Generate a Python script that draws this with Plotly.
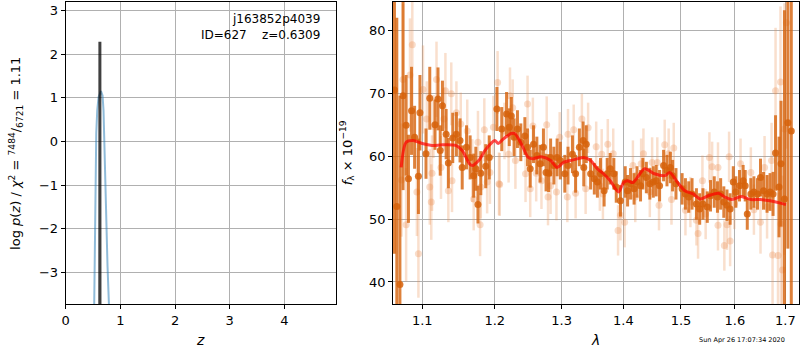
import plotly.graph_objects as go
import numpy as np

# ---------------- Left panel: redshift PDF ----------------
z_chi = [0.50, 0.523, 0.541, 0.547, 0.559, 0.577, 0.601, 0.645, 0.674, 0.692, 0.710, 0.729, 0.747, 0.765, 0.790, 0.81]
logp_chi = [-6.0, -3.72, -2.09, -0.58, 0.18, 0.71, 1.01, 1.15, 1.05, 0.71, -0.20, -1.34, -2.25, -2.85, -3.70, -4.5]

z_pdf = [0.622, 0.6245, 0.6255, 0.628]
logp_pdf = [-8.0, 2.28, 2.28, -8.0]

# ---------------- Right panel: spectrum ----------------
lam_d = [1.064, 1.067, 1.071, 1.075, 1.079, 1.082, 1.086, 1.090, 1.095, 1.097,
         1.105, 1.110, 1.117, 1.121, 1.124, 1.127, 1.132, 1.135, 1.141, 1.146,
         1.151, 1.154, 1.160, 1.165, 1.170, 1.173, 1.176, 1.180, 1.187, 1.192,
         1.203, 1.210, 1.217, 1.221, 1.224, 1.228, 1.233, 1.238, 1.244, 1.248,
         1.252, 1.257, 1.262, 1.267, 1.272, 1.276, 1.280, 1.283, 1.288, 1.293,
         1.298, 1.305, 1.310, 1.317, 1.322, 1.328, 1.334, 1.335, 1.339, 1.346,
         1.352, 1.357, 1.362, 1.368, 1.373, 1.378, 1.384, 1.388, 1.395, 1.403,
         1.407, 1.412, 1.418, 1.423, 1.429, 1.433, 1.439, 1.445, 1.451, 1.456,
         1.462, 1.469, 1.475, 1.481, 1.485, 1.491, 1.502, 1.508, 1.514, 1.520,
         1.528, 1.534, 1.540, 1.548, 1.554, 1.561, 1.567, 1.573, 1.579, 1.585,
         1.591, 1.597, 1.602, 1.609, 1.616, 1.620, 1.624, 1.631, 1.637, 1.644,
         1.650, 1.656, 1.663, 1.669, 1.675, 1.680, 1.687, 1.691, 1.698, 1.705,
         1.712]
flux_d = [70.5, 52.0, 39.6, 69.6, 64.9, 56.4, 67.2, 63.0, 56.8, 66.9,
          60.4, 69.2, 65.0, 69.1, 60.9, 68.0, 63.5, 58.9, 62.9, 63.5,
          62.5, 58.2, 61.4, 59.8, 56.9, 58.0, 52.3, 57.3, 58.4, 59.8,
          67.5, 64.3, 66.7, 64.6, 66.4, 63.0, 64.3, 62.2, 63.2, 61.4,
          58.0, 61.9, 60.1, 58.8, 61.4, 57.4, 57.3, 59.8, 58.5, 59.8,
          59.3, 57.2, 58.5, 60.3, 57.2, 61.4, 62.5, 58.2, 61.9, 57.2,
          56.4, 55.9, 57.2, 54.5, 57.2, 58.0, 57.2, 55.1, 52.9, 55.9,
          54.5, 55.6, 54.8, 55.9, 55.3, 57.2, 56.6, 55.6, 55.9, 56.1,
          55.3, 58.5, 57.7, 58.2, 56.9, 55.6, 54.8, 54.0, 53.5, 54.0,
          52.4, 51.6, 52.4, 51.9, 53.7, 54.3, 53.5, 54.0, 52.7, 52.2,
          51.6, 55.9, 54.3, 55.3, 56.1, 55.3, 50.8, 54.0, 54.3, 54.0,
          56.6, 54.5, 54.0, 54.3, 54.0, 60.5, 55.1, 58.8, 53.2, 65.3,
          64.0]
err_d = [26, 30, 30, 15, 8, 7, 7, 5, 6, 6,
         4, 5, 4, 5, 4, 4, 4, 4, 4, 3.5,
         3.5, 3.5, 3.5, 3.5, 3.5, 3.5, 3, 3.5, 3.5, 3.5,
         3.5, 3.5, 3.5, 3, 3, 3, 3, 3, 3, 3,
         3, 3, 3, 3, 3, 3, 3, 3, 3, 3,
         3, 3, 3, 3, 3, 3, 3, 3, 3, 2.5,
         2.5, 2.5, 2.5, 2.5, 2.5, 2.5, 2.5, 2.5, 2.5, 2.5,
         2.5, 2.5, 2.5, 2.5, 2.5, 2.5, 2.5, 2.5, 2.5, 2.5,
         2.5, 2.5, 2.5, 2.5, 2.5, 2.5, 2.5, 2.5, 2.5, 2.5,
         2.5, 2.5, 2.5, 2.5, 2.5, 2.5, 2.5, 2.5, 2.5, 2.5,
         2.5, 2.5, 2.5, 2.5, 2.5, 2.5, 2.5, 2.5, 2.5, 2.5,
         3, 3, 3, 3, 3.5, 6, 8, 10, 30, 20,
         30]

lam_l = [1.075, 1.087, 1.084, 1.073, 1.079, 1.095, 1.093, 1.101, 1.106, 1.110,
         1.112, 1.113, 1.119, 1.115, 1.131, 1.129, 1.125, 1.135, 1.139, 1.140,
         1.146, 1.152, 1.161, 1.168, 1.170, 1.176, 1.179, 1.180, 1.185, 1.189,
         1.193, 1.198, 1.204, 1.206, 1.207, 1.214, 1.222, 1.220, 1.230, 1.226,
         1.245, 1.248, 1.252, 1.256, 1.261, 1.269, 1.277, 1.279, 1.283, 1.292,
         1.297, 1.309, 1.310, 1.319, 1.322, 1.332, 1.338, 1.342, 1.355, 1.361,
         1.364, 1.374, 1.383, 1.366, 1.391, 1.395, 1.402, 1.416, 1.420, 1.430,
         1.434, 1.445, 1.449, 1.458, 1.461, 1.471, 1.478, 1.487, 1.483, 1.508,
         1.517, 1.528, 1.531, 1.539, 1.545, 1.552, 1.557, 1.568, 1.568, 1.580,
         1.585, 1.589, 1.591, 1.599, 1.611, 1.631, 1.637, 1.650, 1.658, 1.663,
         1.672, 1.674, 1.680, 1.685, 1.690, 1.691, 1.694, 1.702, 1.698]
flux_l = [72.2, 77.7, 72.9, 56.2, 49.1, 44.5, 54.3, 70.6, 65.9, 55.1,
          52.7, 57.3, 72.2, 64.7, 70.4, 65.9, 58.2, 54.5, 69.9, 56.1,
          66.9, 65.1, 64.0, 57.7, 53.2, 62.2, 49.1, 55.1, 64.2, 55.9,
          57.4, 64.6, 71.7, 55.6, 55.5, 64.0, 69.6, 60.3, 59.3, 67.7,
          57.2, 68.3, 54.8, 64.8, 57.3, 56.1, 65.0, 53.5, 55.3, 54.3,
          63.0, 53.5, 63.5, 64.2, 54.1, 65.9, 54.8, 64.5, 61.5, 55.3,
          60.3, 61.9, 60.4, 54.0, 48.2, 50.6, 49.5, 58.5, 53.5, 58.8,
          60.4, 54.3, 59.0, 59.0, 52.2, 61.8, 60.4, 61.3, 53.1, 51.4,
          52.7, 49.8, 47.7, 56.1, 50.8, 59.8, 58.3, 58.2, 49.0, 45.8,
          49.1, 59.9, 46.5, 52.4, 58.8, 57.4, 51.5, 49.5, 58.2, 51.9,
          59.3, 44.3, 70.4, 44.2, 71.8, 49.2, 41.9, 81.2, 64.3]
err_l = [12, 10, 9, 9, 9, 7, 7, 7, 6, 6,
         6, 6, 6, 5, 6, 5, 5, 5, 5, 5,
         5, 5, 5, 5, 5, 5, 5, 5, 5, 5,
         5, 5, 5, 5, 5, 4.5, 4.5, 4.5, 4.5, 4.5,
         4.5, 4.5, 4.5, 4.5, 4.5, 4.5, 4.5, 4.5, 4.5, 4.5,
         4, 4, 4, 4, 4, 4, 4, 4, 4, 4,
         4, 4, 4, 4, 4, 4, 4, 4, 4, 4,
         4, 4, 4, 4, 4, 4, 4, 4, 4, 4,
         4, 4, 4, 4, 4, 4, 4, 4, 4, 4,
         4, 4, 4, 4, 4, 4, 4, 5, 5, 5,
         6, 8, 10, 10, 12, 15, 15, 20, 20]

lam_m = [1.0726, 1.079, 1.088, 1.100, 1.113, 1.127, 1.145, 1.154, 1.164, 1.168,
         1.177, 1.186, 1.196, 1.200, 1.205, 1.212, 1.224, 1.229, 1.239, 1.249,
         1.256, 1.269, 1.283, 1.293, 1.303, 1.318, 1.335, 1.346, 1.357, 1.367,
         1.378, 1.392, 1.400, 1.407, 1.416, 1.436, 1.453, 1.471, 1.480, 1.494,
         1.507, 1.522, 1.535, 1.550, 1.569, 1.581, 1.594, 1.612, 1.631, 1.650,
         1.669, 1.701]
flux_m = [58.2, 62.2, 62.5, 62.0, 61.7, 61.8, 61.7, 60.9, 58.8, 58.5,
          59.3, 60.9, 62.2, 62.5, 62.0, 62.7, 63.6, 63.6, 61.9, 59.8,
          59.6, 59.9, 59.3, 58.2, 59.0, 59.4, 59.8, 59.3, 58.0, 57.2,
          56.1, 54.3, 55.8, 56.1, 55.8, 58.0, 57.2, 56.9, 57.4, 55.8,
          54.5, 54.0, 53.2, 53.7, 54.1, 53.5, 53.1, 53.6, 53.1, 53.1,
          52.9, 52.3]

xticks_l = [0, 1, 2, 3, 4]
yticks_l = [-3, -2, -1, 0, 1, 2, 3]
xticks_r = [1.1, 1.2, 1.3, 1.4, 1.5, 1.6, 1.7]
yticks_r = [40, 50, 60, 70, 80]

FONT = "DejaVu Sans"
W, H = 800, 350

fig = go.Figure()

fig.add_trace(go.Scatter(x=z_chi, y=logp_chi, mode="lines",
                         line=dict(color="rgba(31,119,180,0.5)", width=2),
                         xaxis="x", yaxis="y", showlegend=False, hoverinfo="skip"))
fig.add_trace(go.Scatter(x=z_pdf, y=logp_pdf, mode="lines",
                         line=dict(color="rgba(0,0,0,0.75)", width=3),
                         xaxis="x", yaxis="y", showlegend=False, hoverinfo="skip"))

fig.add_trace(go.Scatter(x=lam_l, y=flux_l, mode="markers",
                         marker=dict(color="rgba(235,140,75,0.3)", size=7, line=dict(width=0)),
                         error_y=dict(type="data", array=err_l, color="rgba(235,140,75,0.28)",
                                      thickness=2.5, width=0),
                         xaxis="x2", yaxis="y2", showlegend=False, hoverinfo="skip"))
fig.add_trace(go.Scatter(x=lam_d, y=flux_d, mode="markers",
                         marker=dict(color="rgba(214,98,10,0.85)", size=7, line=dict(width=0)),
                         error_y=dict(type="data", array=err_d, color="rgba(214,98,10,0.8)",
                                      thickness=3, width=0),
                         xaxis="x2", yaxis="y2", showlegend=False, hoverinfo="skip"))
fig.add_trace(go.Scatter(x=lam_m, y=flux_m, mode="lines", line_shape="spline",
                         line=dict(color="rgba(255,0,0,0.7)", width=3, smoothing=0.8),
                         xaxis="x2", yaxis="y2", showlegend=False, hoverinfo="skip"))

axis_common = dict(showline=True, linecolor="black", linewidth=1, mirror=True,
                   ticks="outside", ticklen=4, tickcolor="black",
                   showgrid=True, gridcolor="#b0b0b0", gridwidth=1, zeroline=False,
                   tickfont=dict(family=FONT, size=13, color="black"))

x0l, x1l = 62 / W, 334 / W
x0r, x1r = 391 / W, 799 / W
y0, y1 = 1 - 304 / H, 1 - 2 / H

fig.update_layout(
    width=W, height=H,
    margin=dict(l=0, r=0, t=0, b=0),
    paper_bgcolor="white", plot_bgcolor="white",
    font=dict(family=FONT, size=13, color="black"),
    xaxis=dict(domain=[x0l, x1l], range=[0, 4.95], tickvals=xticks_l, anchor="y", **axis_common),
    yaxis=dict(domain=[y0, y1], range=[-3.72, 3.19], tickvals=yticks_l, anchor="x", **axis_common),
    xaxis2=dict(domain=[x0r, x1r], type="log", range=[np.log10(1.0622), np.log10(1.7279)],
                tickvals=xticks_r, ticktext=[str(v) for v in xticks_r], anchor="y2", **axis_common),
    yaxis2=dict(domain=[y0, y1], range=[36.5, 84.5], tickvals=yticks_r, anchor="x2", **axis_common),
)

ann = [
    dict(text="j163852p4039", x=320 / W, y=1 - 19 / H, xanchor="right", yanchor="middle",
         font=dict(size=12)),
    dict(text="ID=627\u00a0\u00a0\u00a0\u00a0z=0.6309", x=320 / W, y=1 - 35 / H, xanchor="right",
         yanchor="middle", font=dict(size=12)),
    dict(text="<i>z</i>", x=197 / W, y=1 - 340 / H, xanchor="center", yanchor="middle",
         font=dict(size=14)),
    dict(text="<i>λ</i>", x=594 / W, y=1 - 340 / H, xanchor="center", yanchor="middle",
         font=dict(size=14)),
    dict(text="log <i>p</i>(<i>z</i>) / <i>χ</i><sup>2</sup> = <sup>7484</sup>/<sub>6721</sub> = 1.11",
         x=12 / W, y=1 - 153 / H, xanchor="center", yanchor="middle", textangle=-90,
         font=dict(size=13)),
    dict(text="<i>f</i><sub>λ</sub> × 10<sup>−19</sup>",
         x=345 / W, y=1 - 153 / H, xanchor="center", yanchor="middle", textangle=-90,
         font=dict(size=13)),
    dict(text="Sun Apr 26 17:07:34 2020", x=742 / W, y=1 - 340 / H, xanchor="center",
         yanchor="middle", font=dict(size=6.5)),
]
for a in ann:
    a.update(xref="paper", yref="paper", showarrow=False)
fig.update_layout(annotations=ann)

fig.write_html("out.html", config={"displayModeBar": False},
               post_script="document.body.style.margin='0';document.body.style.padding='0';")
